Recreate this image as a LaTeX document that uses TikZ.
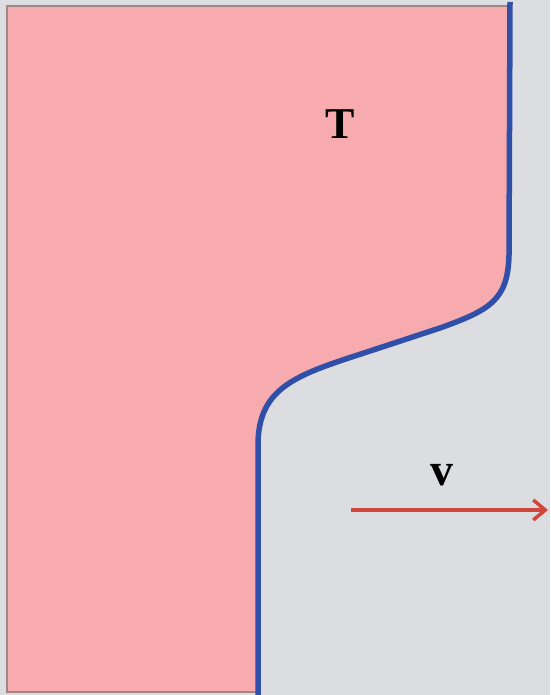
\documentclass[tikz,border=0pt]{standalone}
\usepackage{fontspec}
\setmainfont{Liberation Serif}
\usepackage{tikz}
\usetikzlibrary{
  calc,%
  arrows.meta,%
  positioning
}
\definecolor{bggray}{HTML}{DCDDE0}
\definecolor{hotpink}{HTML}{F7ABAF}
\definecolor{frontblue}{HTML}{2F4FA8}
\definecolor{arrowred}{HTML}{D0463C}
\definecolor{rimgray}{HTML}{A08585}
\tikzset{>={Straight Barb[length=12pt, width=20pt]}}
\tikzset{font=\bfseries}

\begin{document}
\begin{tikzpicture}[x=1pt, y=-1pt]
          \fill[bggray] (0, 0) rectangle (550, 695); %
          \useasboundingbox (0, 0) rectangle (550, 695); %
          \fill[hotpink] (7, 6) -- (510, 6) -- (509, 255) .. controls (508, 300) and (490, 310) .. (440, 328) -- (370, 351) .. controls (300, 374) and (258, 385) .. (258, 445) -- (258, 692) -- (7, 692) -- cycle; %
          \draw[rimgray, line width=1.5pt] (510, 6) -- (7, 6) -- (7, 692) -- (258, 692); %
          \draw[frontblue, line width=5.5pt] (510, 2) -- (509, 255) .. controls (508, 300) and (490, 310) .. (440, 328) -- (370, 351) .. controls (300, 374) and (258, 385) .. (258, 445) -- (258, 695); %
          \node[font=\fontsize{44}{48}\selectfont\bfseries] (heat) at (340, 124) {T}; %
          \coordinate (tail) at (351, 510); %
          \coordinate (head) at (548, 510); %
          \draw[->, arrowred, line width=3.5pt] (tail) -- (head); %
          \node[font=\fontsize{46}{50}\selectfont\bfseries] (speed) at (442, 475) {v}; %
        \end{tikzpicture}
\end{document}
